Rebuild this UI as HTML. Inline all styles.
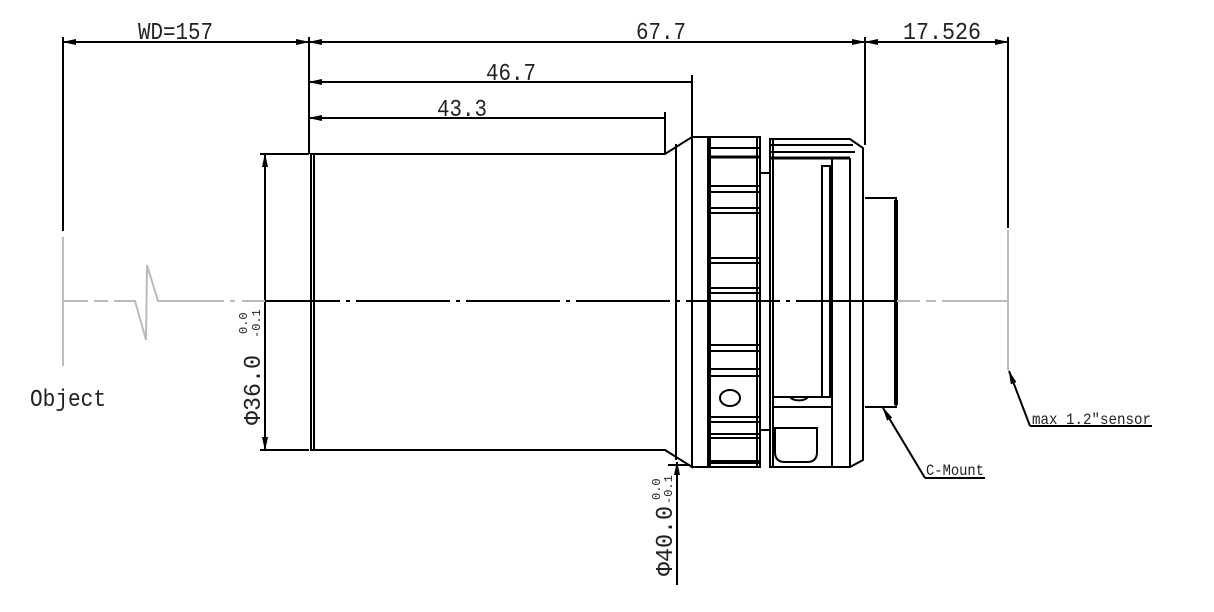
<!DOCTYPE html>
<html><head><meta charset="utf-8"><style>
html,body{margin:0;padding:0;background:#fff;width:1214px;height:612px;overflow:hidden}
svg{display:block}
text{font-family:"Liberation Mono","Noto Serif CJK SC",monospace;fill:#222}
</style></head><body>
<svg width="1214" height="612" viewBox="0 0 1214 612" xmlns="http://www.w3.org/2000/svg">
<defs>
<marker id="a" markerWidth="14" markerHeight="8" refX="13" refY="4" orient="auto" markerUnits="userSpaceOnUse"><path d="M0,1 L14,4 L0,7 Z" fill="#000"/></marker>
<marker id="b" markerWidth="14" markerHeight="8" refX="1" refY="4" orient="auto" markerUnits="userSpaceOnUse"><path d="M14,1 L0,4 L14,7 Z" fill="#000"/></marker>
</defs>
<g stroke="#000" stroke-width="2" fill="none">
<line x1="63" y1="37" x2="63" y2="231"/>
<line x1="309" y1="37" x2="309" y2="154"/>
<line x1="865" y1="37" x2="865" y2="145"/>
<line x1="1008" y1="37" x2="1008" y2="228"/>
<line x1="692" y1="75" x2="692" y2="137"/>
<line x1="665" y1="112" x2="665" y2="154"/>
<line x1="63" y1="42" x2="309" y2="42" marker-start="url(#b)" marker-end="url(#a)"/>
<line x1="309" y1="42" x2="865" y2="42" marker-start="url(#b)" marker-end="url(#a)"/>
<line x1="865" y1="42" x2="1008" y2="42" marker-start="url(#b)" marker-end="url(#a)"/>
<line x1="309" y1="82" x2="692" y2="82" marker-start="url(#b)"/>
<line x1="309" y1="118" x2="665" y2="118" marker-start="url(#b)"/>
<line x1="260" y1="154" x2="309" y2="154"/>
<line x1="260" y1="450" x2="309" y2="450"/>
<line x1="265" y1="154" x2="265" y2="450" marker-start="url(#b)" marker-end="url(#a)"/>
<line x1="677" y1="585" x2="677" y2="462" marker-end="url(#a)"/>
<line x1="668" y1="465" x2="690" y2="465"/>
<path d="M311,154 L665,154 L692,137 L692,467 L665,450 L311,450 Z"/>
<line x1="314" y1="154" x2="314" y2="450"/>
<line x1="676" y1="144" x2="676" y2="460"/>
<rect x="692" y="137" width="68" height="330"/>
<line x1="709" y1="137" x2="709" y2="467" stroke-width="4"/>
<line x1="757" y1="137" x2="757" y2="467"/>
<g stroke-width="2">
<line x1="709" y1="148" x2="760" y2="148"/><line x1="709" y1="157" x2="760" y2="157" stroke-width="3"/>
<line x1="709" y1="186" x2="760" y2="186"/><line x1="709" y1="192" x2="760" y2="192"/>
<line x1="709" y1="208" x2="760" y2="208"/><line x1="709" y1="213" x2="760" y2="213"/>
<line x1="709" y1="258" x2="760" y2="258"/><line x1="709" y1="263" x2="760" y2="263"/>
<line x1="709" y1="288" x2="760" y2="288"/><line x1="709" y1="293" x2="760" y2="293"/>
<line x1="709" y1="345" x2="760" y2="345"/><line x1="709" y1="351" x2="760" y2="351"/>
<line x1="709" y1="369" x2="760" y2="369"/><line x1="709" y1="376" x2="760" y2="376"/>
<line x1="709" y1="417" x2="760" y2="417"/><line x1="709" y1="422" x2="760" y2="422"/>
<line x1="709" y1="434" x2="760" y2="434"/><line x1="709" y1="438" x2="760" y2="438"/>
<line x1="709" y1="462" x2="760" y2="462" stroke-width="4"/>
</g>
<ellipse cx="730" cy="398" rx="10" ry="8"/>
<line x1="760" y1="173" x2="770" y2="173"/><line x1="760" y1="430" x2="770" y2="430"/>
<path d="M770,139 L850,139 L863,148 L863,460 L850,467 L770,467 Z"/>
<line x1="773" y1="139" x2="773" y2="467"/>
<line x1="770" y1="145" x2="853" y2="145"/>
<line x1="770" y1="152" x2="855" y2="152"/>
<line x1="770" y1="158" x2="850" y2="158" stroke-width="3"/>
<line x1="832" y1="158" x2="832" y2="467"/>
<line x1="850" y1="158" x2="850" y2="467"/>
<rect x="822" y="166" width="8" height="231"/>
<line x1="773" y1="397" x2="832" y2="397"/>
<line x1="773" y1="407" x2="832" y2="407"/>
<path d="M790,397 A10,6 0 0 0 808,397"/>
<path d="M775,428 L817,428 L817,452 Q817,462 807,462 L785,462 Q775,462 775,452 Z"/>
<path d="M865,198 L896,198 L896,407 L865,407"/>
<line x1="896" y1="200" x2="896" y2="405" stroke-width="4"/>
<line x1="925" y1="478" x2="883" y2="408" marker-end="url(#a)"/>
<line x1="925" y1="478" x2="985" y2="478"/>
<line x1="1030" y1="426" x2="1009" y2="371" marker-end="url(#a)"/>
<line x1="1030" y1="426" x2="1152" y2="426"/>
</g>
<g stroke="#bbb" stroke-width="2" fill="none">
<line x1="63" y1="237" x2="63" y2="366"/>
<line x1="1008" y1="230" x2="1008" y2="370"/>
<path d="M63,301 L88,301 M94,301 L108,301 M114,301 L135,301 L146,340 L147,265 L158,301 L224,301 M230,301 L235,301 M242,301 L265,301"/>
<path d="M897,301 L920,301 M926,301 L936,301 M942,301 L1008,301"/>
</g>
<g stroke="#000" stroke-width="2">
<path d="M265,301 L340,301 M346,301 L350,301 M356,301 L450,301 M456,301 L460,301 M466,301 L560,301 M566,301 L570,301 M576,301 L670,301 M676,301 L680,301 M686,301 L780,301 M786,301 L790,301 M796,301 L897,301"/>
</g>
<text x="138" y="39" font-size="24" textLength="75" lengthAdjust="spacingAndGlyphs">WD=157</text>
<text x="636" y="39" font-size="24" textLength="50" lengthAdjust="spacingAndGlyphs">67.7</text>
<text x="903" y="39" font-size="24" textLength="78" lengthAdjust="spacingAndGlyphs">17.526</text>
<text x="486" y="80" font-size="24" textLength="50" lengthAdjust="spacingAndGlyphs">46.7</text>
<text x="437" y="116" font-size="24" textLength="50" lengthAdjust="spacingAndGlyphs">43.3</text>
<text x="30" y="406" font-size="24" textLength="76" lengthAdjust="spacingAndGlyphs">Object</text>
<text x="926" y="475" font-size="16" textLength="58" lengthAdjust="spacingAndGlyphs">C-Mount</text>
<text x="1032" y="424" font-size="16" textLength="119" lengthAdjust="spacingAndGlyphs">max 1.2″sensor</text>
<text transform="translate(260,425) rotate(-90)" font-size="24" textLength="70" lengthAdjust="spacingAndGlyphs">Φ36.0</text>
<text transform="translate(247,334) rotate(-90)" font-size="12">0.0</text>
<text transform="translate(260,338) rotate(-90)" font-size="12">-0.1</text>
<text transform="translate(672,576) rotate(-90)" font-size="24" textLength="70" lengthAdjust="spacingAndGlyphs">Φ40.0</text>
<text transform="translate(660,500) rotate(-90)" font-size="12">0.0</text>
<text transform="translate(672,504) rotate(-90)" font-size="12">-0.1</text>
</svg>
</body></html>
